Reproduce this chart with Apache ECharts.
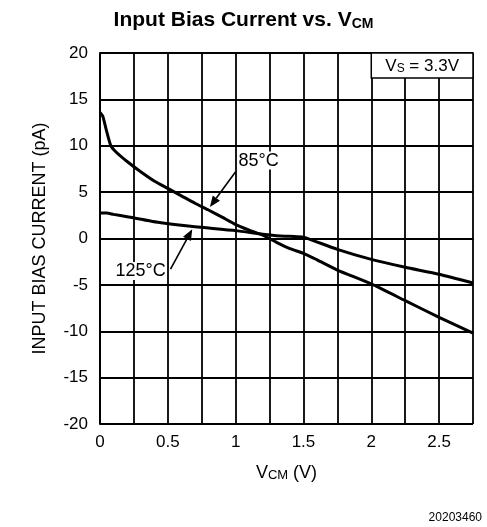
<!DOCTYPE html>
<html><head><meta charset="utf-8">
<script src="https://cdn.jsdelivr.net/npm/echarts/dist/echarts.min.js"></script>
<style>html,body{margin:0;padding:0;background:#fff}#c{width:487px;height:527px}</style>
</head><body><div id="c"></div>
<script>
// 85°C curve
const x85 = [0, 0.02, 0.05, 0.08, 0.12, 0.2, 0.3, 0.4, 0.5, 0.6, 0.7, 0.8, 0.9, 1.0, 1.1, 1.2, 1.3, 1.4, 1.5, 1.6, 1.75, 2.0, 2.25, 2.5, 2.75];
const y85 = [13.6, 13.2, 11.5, 10.0, 9.3, 8.3, 7.2, 6.2, 5.4, 4.6, 3.8, 3.07, 2.3, 1.5, 0.9, 0.35, -0.4, -1.1, -1.6, -2.3, -3.4, -4.9, -6.7, -8.5, -10.2];
// 125°C curve
const x125 = [0, 0.05, 0.1, 0.2, 0.45, 0.7, 1.0, 1.2, 1.3, 1.45, 1.5, 1.75, 2.0, 2.25, 2.5, 2.75];
const y125 = [2.75, 2.75, 2.6, 2.35, 1.7, 1.27, 0.85, 0.45, 0.3, 0.2, 0.15, -1.17, -2.25, -3.1, -3.85, -4.8];
// axes
const xMin = 0, xMax = 2.75, xGrid = 0.25, xLabelStep = 0.5;
const yMin = -20, yMax = 20, yStep = 5;
// annotations (data coordinates)
const label85 = { text: '85°C', at: [1.17, 8.4], arrowFrom: [1.0, 7.2], arrowTo: [0.81, 3.4] };
const label125 = { text: '125°C', at: [0.30, -3.5], arrowFrom: [0.52, -3.3], arrowTo: [0.68, 1.0] };
const condBox = { from: [2.0, 20], to: [2.75, 17.3], textAt: [2.375, 18.6] };

const FONT = '"Liberation Sans", Arial, Helvetica, sans-serif';
const chart = echarts.init(document.getElementById('c'), null, { renderer: 'canvas' });
const zip = (xs, ys) => xs.map((x, i) => [x, ys[i]]);
const lineStyle = { color: '#000', width: 3 };

chart.setOption({
  animation: false,
  backgroundColor: '#fff',
  textStyle: { fontFamily: FONT },
  title: {
    text: 'Input Bias Current vs. V{sub|CM}',
    left: 'center',
    top: 5,
    textStyle: {
      fontFamily: FONT, fontSize: 21, fontWeight: 'bold', color: '#000',
      rich: {
        sub: { fontFamily: FONT, fontSize: 14, fontWeight: 'bold', color: '#000', verticalAlign: 'bottom', lineHeight: 14, padding: [14, 0, 0, 0] }
      }
    }
  },
  grid: { left: 100, right: 14, top: 53, bottom: 103 },
  xAxis: {
    type: 'value', min: xMin, max: xMax, interval: xGrid,
    name: 'V{sub|CM} (V)', nameLocation: 'middle', nameGap: 40,
    nameTextStyle: { fontFamily: FONT, fontSize: 18, color: '#000',
      rich: { sub: { fontFamily: FONT, fontSize: 13, color: '#000', verticalAlign: 'bottom', lineHeight: 13, padding: [11, 0, 0, 0] } } },
    axisLine: { show: true, lineStyle: { color: '#000', width: 2 } },
    axisTick: { show: false },
    splitLine: { show: true, lineStyle: { color: '#000', width: 1.8 } },
    axisLabel: {
      color: '#000', fontSize: 17, fontFamily: FONT, margin: 10, showMaxLabel: true,
      formatter: v => (Math.abs(v / xLabelStep - Math.round(v / xLabelStep)) < 1e-6 ? String(+v.toFixed(2)) : '')
    }
  },
  yAxis: {
    type: 'value', min: yMin, max: yMax, interval: yStep,
    name: 'INPUT BIAS CURRENT (pA)', nameLocation: 'middle', nameGap: 51,
    nameTextStyle: { fontFamily: FONT, fontSize: 18, color: '#000' },
    axisLine: { show: true, lineStyle: { color: '#000', width: 2 } },
    axisTick: { show: false },
    splitLine: { show: true, lineStyle: { color: '#000', width: 1.8 } },
    axisLabel: { color: '#000', fontSize: 17, fontFamily: FONT, margin: 12 }
  },
  series: [
    { name: '85°C', type: 'line', data: zip(x85, y85), showSymbol: false, smooth: 0.2, lineStyle, silent: true, z: 5 },
    { name: '125°C', type: 'line', data: zip(x125, y125), showSymbol: false, smooth: 0.2, lineStyle, silent: true, z: 5 }
  ]
});

function px(p) { return chart.convertToPixel({ gridIndex: 0 }, p); }
function arrow(from, to) {
  const a = px(from), b = px(to);
  const ang = Math.atan2(b[1] - a[1], b[0] - a[0]);
  const L = 11, W = 4.5;
  const bx = b[0] - L * Math.cos(ang), by = b[1] - L * Math.sin(ang);
  const nx = -Math.sin(ang) * W, ny = Math.cos(ang) * W;
  return [
    { type: 'line', z: 10, shape: { x1: a[0], y1: a[1], x2: bx, y2: by }, style: { stroke: '#000', lineWidth: 1.6 } },
    { type: 'polygon', z: 10, shape: { points: [[b[0], b[1]], [bx + nx, by + ny], [bx - nx, by - ny]] }, style: { fill: '#000' } }
  ];
}
function label(t, at) {
  const p = px(at);
  return { type: 'text', z: 11, x: p[0], y: p[1],
    style: { text: t, fill: '#000', font: '18px ' + FONT, align: 'center', verticalAlign: 'middle',
      backgroundColor: '#fff', padding: [0, 1] } };
}
const b0 = px(condBox.from), b1 = px(condBox.to), bt = px(condBox.textAt);
const graphics = [
  ...arrow(label85.arrowFrom, label85.arrowTo),
  ...arrow(label125.arrowFrom, label125.arrowTo),
  label(label85.text, label85.at),
  label(label125.text, label125.at),
  { type: 'rect', z: 10, shape: { x: b0[0], y: b0[1], width: b1[0] - b0[0], height: b1[1] - b0[1] },
    style: { fill: '#fff', stroke: '#000', lineWidth: 1.5 } },
  { type: 'text', z: 11, x: bt[0], y: bt[1],
    style: { text: 'V{sub|S} = 3.3V', fill: '#000', font: '17px ' + FONT, align: 'center', verticalAlign: 'middle',
      rich: { sub: { fontSize: 12, fontFamily: FONT, fill: '#000', verticalAlign: 'bottom', lineHeight: 12, padding: [10, 0, 0, 0] } } } },
  { type: 'text', z: 11, right: 5, bottom: 3,
    style: { text: '20203460', fill: '#000', font: '12px ' + FONT } }
];
chart.setOption({ graphic: graphics });
</script>
</body></html>
